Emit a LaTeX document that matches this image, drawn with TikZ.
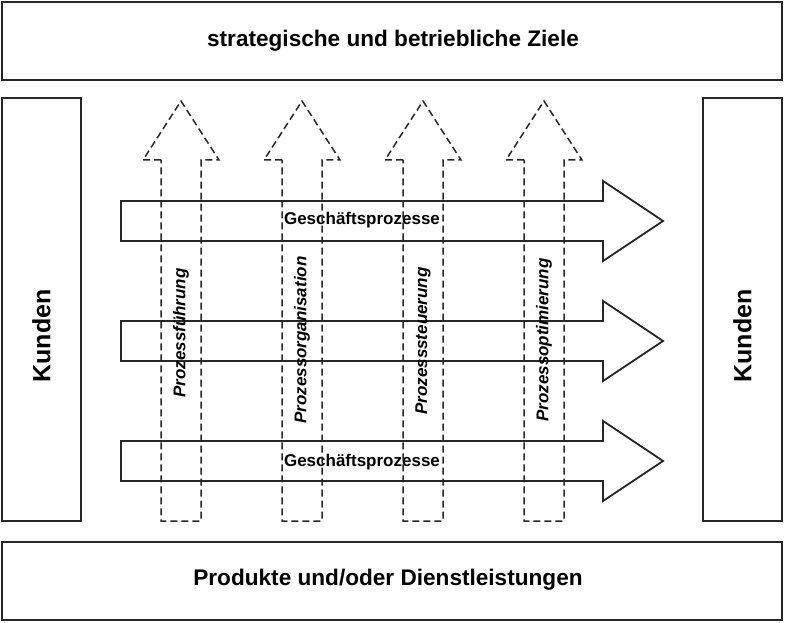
\documentclass[tikz,border=0pt]{standalone}
\usepackage{fontspec}
\setmainfont{Liberation Sans}
\begin{document}
\begin{tikzpicture}[x=1pt,y=-1pt,
  box/.style={draw,line width=1.8pt,color=black!85},
  dsh/.style={draw,line width=1.5pt,color=black!85,dash pattern=on 7pt off 4pt},
  big/.style={font=\bfseries\fontsize{22.6}{24}\selectfont},
  kun/.style={font=\bfseries\fontsize{25}{27}\selectfont,rotate=90},
  gp/.style={font=\bfseries\fontsize{17}{19}\selectfont},
  vl/.style={font=\bfseries\itshape\fontsize{17}{19}\selectfont,rotate=90}]
\useasboundingbox (0,0) rectangle (785,623);
\draw[box] (2,2) rectangle (782,80);
\node[big] (ziele) at (393,41) {strategische und betriebliche Ziele};
\draw[box] (2,542) rectangle (782,620);
\node[big] (prod) at (388,580) {Produkte und/oder Dienstleistungen};
\draw[box] (2,98) rectangle (81,521);
\node[kun] (kl) at (41.5,336) {Kunden};
\draw[box] (703,98) rectangle (782,521);
\node[kun] (kr) at (742.5,336) {Kunden};
\foreach \y in {221,341,461}{
  \draw[box] (121,\y-20) -- (603,\y-20) -- (603,\y-40) -- (663,\y) -- (603,\y+40) -- (603,\y+20) -- (121,\y+20) -- cycle;
}
\node[gp] (g1) at (362,220) {Geschäftsprozesse};
\node[gp] (g3) at (362,462) {Geschäftsprozesse};
\foreach \x/\t/\n/\c in {181/Prozessführung/a/333,302/Prozessorganisation/b/340,423/Prozesssteuerung/c/341,544/Prozessoptimierung/d/340}{
  \draw[dsh] (\x-20,160) -- (\x-38,160) -- (\x,101) -- (\x+38,160) -- (\x+20,160) -- (\x+20,521) -- (\x-20,521) -- cycle;
  \node[vl] (\n) at (\x,\c) {\t};
}
\end{tikzpicture}
\end{document}
